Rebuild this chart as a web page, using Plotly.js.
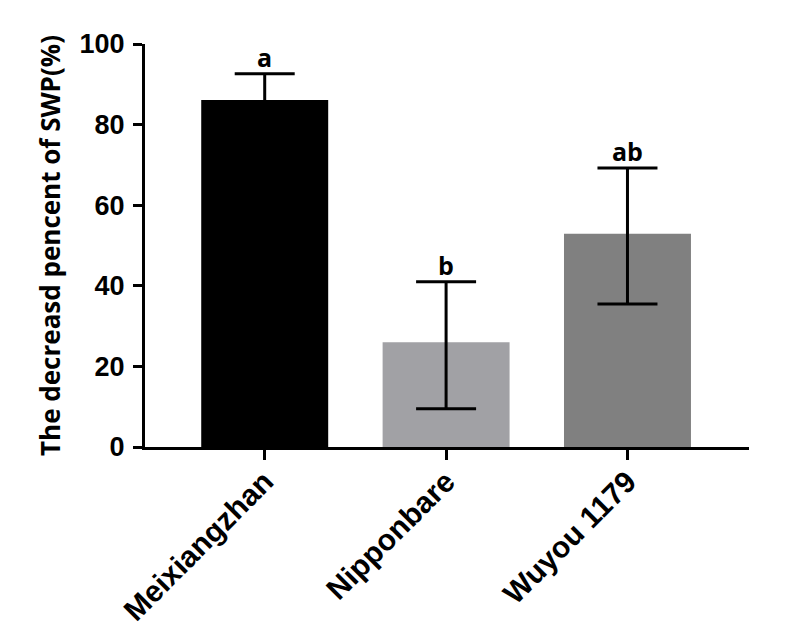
<!DOCTYPE html>
<html>
<head>
<meta charset="utf-8">
<script src="https://cdn.plot.ly/plotly-3.0.1.min.js"></script>
<style>
  html, body { margin: 0; padding: 0; background: #fff; }
  #chart { width: 788px; height: 636px; }
</style>
</head>
<body>
<div id="chart"></div>
<script>
/* SWP decrease per cultivar, mean with error bars and significance letters */

const cultivars = ['Meixiangzhan', 'Nipponbare', 'Wuyou 1179'];
const meanPct = [86.1, 26.0, 52.9];
const errUp = [6.5, 15.0, 16.3];
const errDown = [6.5, 16.5, 17.4];
const sigLetters = ['a', 'b', 'ab'];
const barColors = ['#000000', '#A1A1A5', '#808080'];
const yTicks = [0, 20, 40, 60, 80, 100];

const FONT = 'Liberation Sans, Arial, Helvetica, sans-serif';
const FONT2 = 'Open Sans, Noto Sans, sans-serif';

const trace = {
    type: 'bar',
    x: cultivars,
    y: meanPct,
    width: 0.7,
    marker: { color: barColors, line: { width: 0 } },
    error_y: {
        type: 'data',
        symmetric: false,
        array: errUp,
        arrayminus: errDown,
        color: '#000',
        thickness: 3,
        width: 30,
    },
    hoverinfo: 'x+y',
};

// letters sit just above each upper error cap
const annotations = cultivars.map((c, i) => ({
    x: c,
    y: meanPct[i] + errUp[i],
    xref: 'x',
    yref: 'y',
    text: sigLetters[i],
    showarrow: false,
    yanchor: 'bottom',
    yshift: -2,
    font: { family: FONT2, size: 25, color: '#000', weight: 'bold' },
}));

const layout = {
    width: 788,
    height: 636,
    paper_bgcolor: '#fff',
    plot_bgcolor: '#fff',
    margin: { l: 145, r: 39, t: 44, b: 189 },
    showlegend: false,
    bargap: 0.3,
    font: { family: FONT, color: '#000', weight: 'bold' },
    xaxis: {
        type: 'category',
        range: [-0.66, 2.67],
        showline: true,
        linecolor: '#000',
        linewidth: 3,
        ticks: 'outside',
        ticklen: 10,
        tickwidth: 3,
        tickcolor: '#000',
        tickangle: -45,
        ticklabelstandoff: -8,
        tickfont: { family: FONT, size: 30, color: '#000', weight: 'bold' },
        showgrid: false,
        zeroline: false,
        fixedrange: true,
    },
    yaxis: {
        range: [0, 100],
        tickvals: yTicks,
        ticktext: yTicks.map(String),
        showline: true,
        linecolor: '#000',
        linewidth: 3,
        ticks: 'outside',
        ticklen: 9,
        tickwidth: 3,
        tickcolor: '#000',
        ticklabelstandoff: 3,
        tickfont: { family: FONT, size: 27, color: '#000', weight: 'bold' },
        showgrid: false,
        zeroline: false,
        fixedrange: true,
        title: {
            text: 'The decreasd pencent of SWP(%)',
            font: { family: FONT2, size: 26, color: '#000', weight: 'bold' },
            standoff: 12,
        },
    },
    annotations: annotations,
};

Plotly.newPlot('chart', [trace], layout, { displayModeBar: false, staticPlot: true });
</script>
</body>
</html>
